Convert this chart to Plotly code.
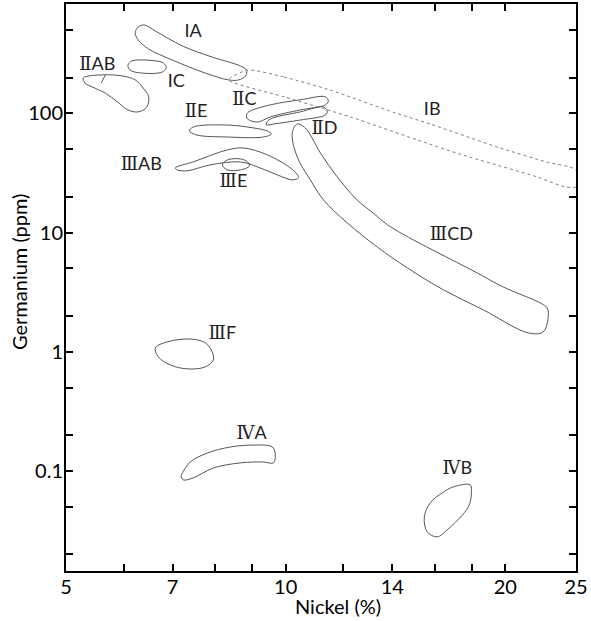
import plotly.graph_objects as go

# ---- axis ticks ----
NI_TICKS = [5, 6, 7, 8, 9, 10, 12, 14, 16, 18, 20, 25]
NI_TICKTEXT = ["5", "", "7", "", "", "10", "", "14", "", "", "20", "25"]
GE_TICKS = [0.02, 0.05, 0.1, 0.2, 0.5, 1, 2, 5, 10, 20, 50, 100, 200, 500]
GE_TICKTEXT = ["", "", "0.1", "", "", "1", "", "", "10", "", "", "100", "", ""]

# ---- group outlines (Ni %, Ge ppm) ----
IA_NI = [6.22, 6.28, 6.40, 6.63, 7.22, 7.93, 8.67, 8.84, 8.81, 8.62, 8.35, 7.76, 6.99, 6.49, 6.28]
IA_GE = [473, 531, 552, 491, 368, 297, 250, 231, 206, 191, 191, 218, 281, 347, 413]

IIAB_NI = [5.28, 5.54, 5.98, 6.22, 6.38, 6.49, 6.45, 6.28, 6.08, 5.88, 5.66, 5.43, 5.31]
IIAB_GE = [198, 210, 206, 191, 163, 138, 113, 103, 107, 125, 148, 167, 180]
IIAB_SPLIT_NI = [5.66, 5.54]
IIAB_SPLIT_GE = [210, 163]

IC_NI = [6.16, 6.63, 6.80, 6.86, 6.77, 6.36, 6.12, 6.08]
IC_GE = [276, 276, 265, 240, 222, 218, 231, 255]

IIE_NI = [7.38, 7.47, 8.32, 9.04, 9.44, 9.56, 9.32, 8.32, 7.56]
IIE_GE = [71.2, 76.9, 79.9, 75.5, 71.2, 67.2, 63.4, 63.4, 65.9]

IIC_NI = [8.84, 8.90, 9.53, 10.47, 11.34, 11.44, 11.34, 10.47, 9.53, 9.15, 8.87]
IIC_GE = [97.2, 103, 118, 130, 137.8, 127.5, 118, 107, 93.5, 84.7, 89.7]

IID_NI = [9.41, 9.53, 10.47, 11.26, 11.40, 11.34, 10.47, 9.62, 9.41]
IID_GE = [83.0, 89.7, 103, 113.4, 105, 97.2, 88.0, 81.5, 79.9]

IIIAB_NI = [7.06, 7.47, 8.32, 8.76, 9.44, 10.15, 10.38, 10.41, 10.21, 9.74, 9.15, 8.67, 7.88, 7.33, 7.10]
IIIAB_GE = [34.9, 39.2, 49.4, 51.3, 44.9, 34.9, 30.5, 28.8, 27.7, 30.5, 35.6, 39.2, 37.0, 33.0, 33.6]

IIIE_NI = [8.19, 8.32, 8.67, 8.87, 8.92, 8.67, 8.32]
IIIE_GE = [37.0, 40.7, 41.5, 39.2, 36.3, 33.6, 33.6]

IIICD_NI = [10.37, 10.21, 10.37, 10.81, 11.27, 12.14, 13.35, 14.68, 16.45, 18.66, 21.51, 22.54,
            22.90, 22.83, 22.33, 19.87, 18.30, 13.92, 13.18, 12.53, 11.77, 11.16, 10.64]
IIICD_GE = [81.5, 68.5, 43.2, 27.7, 18.8, 12.1, 7.58, 5.06, 3.31, 2.25, 1.44, 1.47,
            1.96, 2.33, 2.57, 3.50, 4.59, 11.2, 14.6, 18.8, 29.3, 46.6, 75.4]

IIIF_NI = [6.63, 6.88, 7.40, 7.76, 7.93, 7.96, 7.76, 7.33, 6.95, 6.69]
IIIF_GE = [1.08, 1.21, 1.28, 1.19, 1.00, 0.855, 0.747, 0.719, 0.776, 0.906]

IVA_NI = [7.22, 7.40, 7.81, 8.40, 9.04, 9.59, 9.68, 9.62, 9.32, 8.67, 7.96, 7.47, 7.24, 7.19]
IVA_GE = [0.0963, 0.119, 0.1415, 0.159, 0.165, 0.159, 0.136, 0.117, 0.119, 0.117, 0.106, 0.0875, 0.0842, 0.0908]

IVB_NI = [16.97, 17.91, 17.97, 17.80, 16.65, 16.13, 15.63, 15.49, 15.78, 16.39]
IVB_GE = [0.0735, 0.0764, 0.0655, 0.050, 0.0321, 0.028, 0.0309, 0.0412, 0.054, 0.0655]

IB_NI = [8.87, 9.95, 11.51, 14.13, 15.78, 19.68, 22.76, 25.0, 25.0, 24.14, 22.12, 17.46, 15.15, 12.26, 9.95, 8.35]
IB_GE = [231, 202, 157, 101, 81.5, 51.3, 39.2, 33.6, 24.2, 24.2, 29.3, 44.9, 59.9, 93.5, 137.8, 191]

# ---- group labels ----
LABEL_NUM = ["I", "II", "I", "II", "II", "II", "III", "III", "I", "III", "III", "IV", "IV"]
LABEL_SUF = ["A", "AB", "C", "E", "C", "D", "AB", "E", "B", "CD", "F", "A", "B"]
LABEL_NI = [7.47, 5.52, 7.08, 7.54, 8.78, 11.30, 6.34, 8.48, 15.88, 16.87, 8.19, 8.98, 17.19]
LABEL_GE = [482, 250, 180, 101, 127.5, 74.0, 36.3, 26.1, 105, 9.53, 1.41, 0.204, 0.102]

ROMAN = {"I": "I", "II": "\u2161", "III": "\u2162", "IV": "\u2163"}

X_TITLE = "Nickel (%)"
Y_TITLE = "Germanium (ppm)"

fig = go.Figure()

LINE_COLOR = "#555555"
solid_groups = [
    (IA_NI, IA_GE), (IIAB_NI, IIAB_GE), (IC_NI, IC_GE), (IIE_NI, IIE_GE),
    (IIC_NI, IIC_GE), (IID_NI, IID_GE), (IIIAB_NI, IIIAB_GE), (IIIE_NI, IIIE_GE),
    (IIICD_NI, IIICD_GE), (IIIF_NI, IIIF_GE), (IVA_NI, IVA_GE), (IVB_NI, IVB_GE),
]
for ni, ge in solid_groups:
    fig.add_trace(go.Scatter(
        x=list(ni) + [ni[0]], y=list(ge) + [ge[0]], mode="lines",
        line=dict(color=LINE_COLOR, width=1, shape="spline", smoothing=1.0),
        hoverinfo="skip", showlegend=False))

fig.add_trace(go.Scatter(
    x=list(IB_NI) + [IB_NI[0]], y=list(IB_GE) + [IB_GE[0]], mode="lines",
    line=dict(color="#808080", width=1, dash="dot", shape="spline", smoothing=0.6),
    hoverinfo="skip", showlegend=False))

fig.add_trace(go.Scatter(
    x=IIAB_SPLIT_NI, y=IIAB_SPLIT_GE, mode="lines",
    line=dict(color=LINE_COLOR, width=1, dash="dash"),
    hoverinfo="skip", showlegend=False))

texts = []
for num, suf in zip(LABEL_NUM, LABEL_SUF):
    if num == "I":
        texts.append("I" + suf)
    else:
        texts.append("<span style='font-family:\"DejaVu Serif\"'>" + ROMAN[num] + "</span>" + suf)

fig.add_trace(go.Scatter(
    x=LABEL_NI, y=LABEL_GE, mode="text", text=texts,
    textfont=dict(family="Lato", size=18, color="#222222"),
    hoverinfo="skip", showlegend=False))

axis_common = dict(
    type="log", showgrid=False, zeroline=False,
    showline=True, linecolor="black", linewidth=2, mirror="ticks",
    ticks="inside", ticklen=7, tickwidth=1.5, tickcolor="black",
    tickfont=dict(family="Lato", size=20, color="black"),
)

fig.update_xaxes(
    **axis_common, range=[0.69897, 1.39794],
    tickmode="array", tickvals=NI_TICKS, ticktext=NI_TICKTEXT,
    ticklabelstandoff=-3,
)
fig.update_yaxes(
    **axis_common, range=[-1.839, 2.918],
    tickmode="array", tickvals=GE_TICKS, ticktext=GE_TICKTEXT,
    ticklabelstandoff=-3,
)

fig.add_annotation(text=X_TITLE, xref="paper", yref="paper",
                   x=(338 - 66) / 510, y=-(606 - 571) / 567,
                   xanchor="center", yanchor="middle", showarrow=False,
                   font=dict(family="Lato", size=20, color="black"))
fig.add_annotation(text=Y_TITLE, xref="paper", yref="paper",
                   x=-(66 - 19) / 510, y=(571 - 272) / 567,
                   xanchor="center", yanchor="middle", showarrow=False, textangle=-90,
                   font=dict(family="Lato", size=20, color="black"))

fig.update_layout(
    width=591, height=621,
    margin=dict(l=66, r=15, t=4, b=50, autoexpand=False),
    paper_bgcolor="white", plot_bgcolor="white",
)

fig.write_html("out.html", config={"displayModeBar": False},
               post_script="document.body.style.margin='0';")
